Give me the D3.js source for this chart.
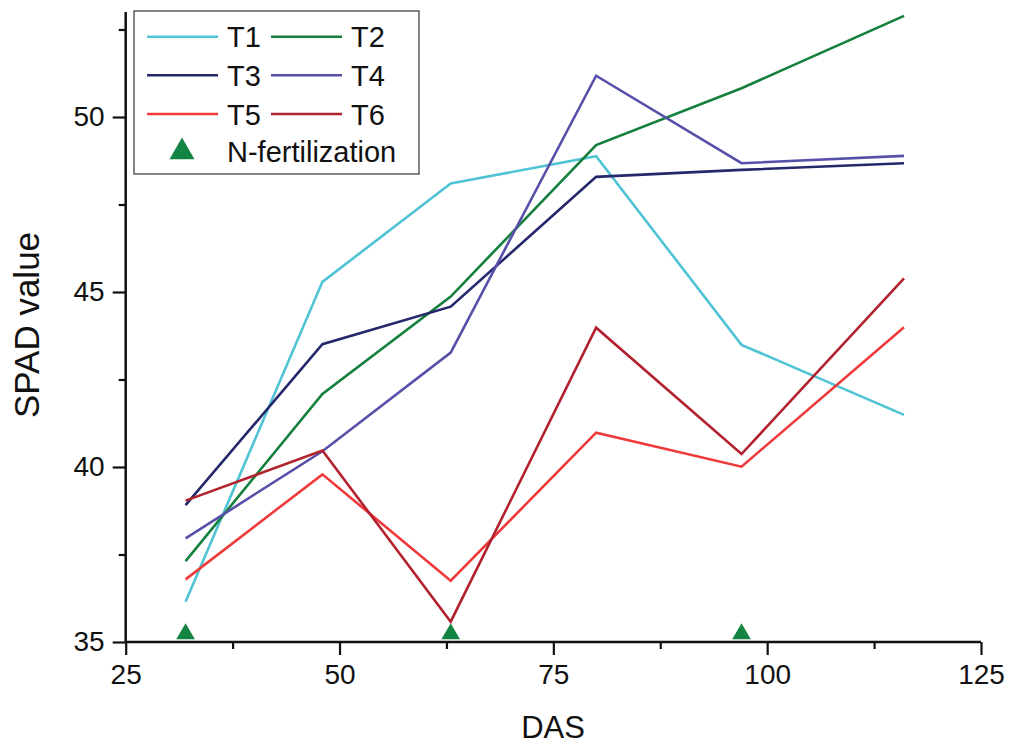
<!DOCTYPE html>
<html>
<head>
<meta charset="utf-8">
<script src="https://cdn.jsdelivr.net/npm/d3@7"></script>
<style>
  html, body { margin: 0; padding: 0; background: #fff; }
  svg text { font-family: "Liberation Sans", Arial, sans-serif; fill: #111; }
</style>
</head>
<body>
<svg id="chart" width="1014" height="746"></svg>
<script>
// ---- data ----
const das = [32, 48, 63, 80, 97, 116];
const seriesNames = ["T1", "T2", "T3", "T4", "T5", "T6"];
const t1 = [36.15, 45.29, 48.10, 48.88, 43.49, 41.49];
const t2 = [37.31, 42.09, 44.87, 49.20, 50.82, 52.89];
const t3 = [38.91, 43.51, 44.58, 48.29, 48.49, 48.68];
const t4 = [37.96, 40.45, 43.27, 51.18, 48.68, 48.89];
const t5 = [36.79, 39.79, 36.75, 40.98, 40.01, 43.99];
const t6 = [39.04, 40.47, 35.58, 43.98, 40.37, 45.39];
const fertilizationDAS = [32, 63, 97];
const xTicks = [25, 50, 75, 100, 125];
const xMinorTicks = [37.5, 62.5, 87.5, 112.5];
const yTicks = [35, 40, 45, 50];
const yMinorTicks = [37.5, 42.5, 47.5, 52.5];
const colors = ["#50c4d4", "#15803d", "#25286b", "#5750a8", "#ef3a3c", "#b2222e"];
const triColor = "#138442";

const seriesValues = [t1, t2, t3, t4, t5, t6];

const svg = d3.select("#chart");
const x = d3.scaleLinear().domain([25, 125]).range([125.7, 981]);
const y = d3.scaleLinear().domain([35, 53]).range([642, 12]);

// ---- axes ----
const xAxis = svg.append("g").attr("transform", `translate(0,${y(35)})`)
  .call(d3.axisBottom(x).tickValues(xTicks).tickSize(13).tickPadding(9).tickFormat(d3.format("d")));
const xMinor = svg.append("g").attr("transform", `translate(0,${y(35)})`)
  .call(d3.axisBottom(x).tickValues(xMinorTicks).tickSize(7).tickFormat(""));
const yAxis = svg.append("g").attr("transform", `translate(${x(25)},0)`)
  .call(d3.axisLeft(y).tickValues(yTicks).tickSize(13).tickPadding(8).tickFormat(d3.format("d")));
const yMinor = svg.append("g").attr("transform", `translate(${x(25)},0)`)
  .call(d3.axisLeft(y).tickValues(yMinorTicks).tickSize(7).tickFormat(""));

[xAxis, xMinor, yAxis, yMinor].forEach(g => {
  g.select(".domain").attr("stroke", "#111").attr("stroke-width", 2.5);
  g.selectAll(".tick line").attr("stroke", "#111").attr("stroke-width", 2.2);
  g.selectAll(".tick text").attr("font-size", 28).attr("fill", "#111")
    .style("font-family", '"Liberation Sans", Arial, sans-serif');
});
xAxis.select(".domain").attr("d", `M${x(25)},0H${x(125)}`);
xMinor.select(".domain").remove();
yAxis.select(".domain").attr("d", `M0,${y(35)}V${y(53)}`);
yMinor.select(".domain").remove();

// axis titles
svg.append("text").attr("x", 553).attr("y", 738).attr("text-anchor", "middle")
  .attr("font-size", 31).text("DAS");
svg.append("text").attr("transform", "translate(39,325) rotate(-90)")
  .attr("text-anchor", "middle").attr("font-size", 35).text("SPAD value");

// ---- lines ----
const line = d3.line().x((d, i) => x(das[i])).y(d => y(d));
svg.append("g").selectAll("path").data(seriesValues).join("path")
  .attr("d", d => line(d))
  .attr("fill", "none")
  .attr("stroke", (d, i) => colors[i])
  .attr("stroke-width", 2.6)
  .attr("stroke-linejoin", "miter");

// ---- fertilization markers ----
const tri = d3.symbol().type(d3.symbolTriangle).size(150);
svg.append("g").selectAll("path").data(fertilizationDAS).join("path")
  .attr("d", tri)
  .attr("transform", d => `translate(${x(d)},${y(35) - 8})`)
  .attr("fill", triColor);

// ---- legend ----
const lg = svg.append("g");
lg.append("rect").attr("x", 134).attr("y", 11).attr("width", 285).attr("height", 163)
  .attr("fill", "#fff").attr("stroke", "#444").attr("stroke-width", 1.3);
const rowsY = [36.7, 75.3, 114];
seriesNames.forEach((name, i) => {
  const col = i % 2, row = Math.floor(i / 2);
  const x0 = col === 0 ? 147 : 271;
  const yy = rowsY[row];
  lg.append("line").attr("x1", x0).attr("x2", x0 + 71).attr("y1", yy).attr("y2", yy)
    .attr("stroke", colors[i]).attr("stroke-width", 2.4);
  lg.append("text").attr("x", x0 + 80).attr("y", yy + 10.5).attr("font-size", 29).text(name);
});
lg.append("path").attr("d", d3.symbol().type(d3.symbolTriangle).size(270))
  .attr("transform", "translate(182,152)").attr("fill", triColor);
lg.append("text").attr("x", 227).attr("y", 162).attr("font-size", 29).text("N-fertilization");
</script>
</body>
</html>
